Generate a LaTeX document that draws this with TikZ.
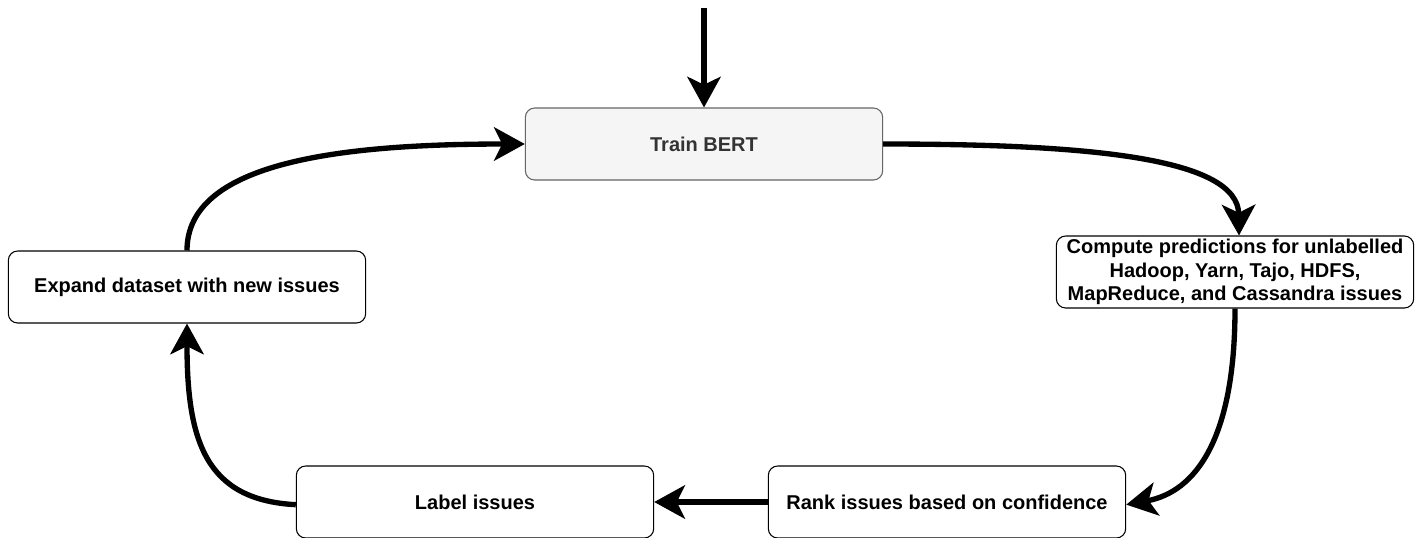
\documentclass[tikz,border=0pt]{standalone}
\usepackage{fontspec}
\setmainfont{Liberation Sans}
\usetikzlibrary{arrows.meta}
\definecolor{boxgray}{HTML}{F5F5F5}
\definecolor{edgegray}{HTML}{666666}
\definecolor{textgray}{HTML}{333333}
\begin{document}
\begin{tikzpicture}[x=0.75pt,y=-0.75pt,
  stepbox/.style={draw=black, line width=0.8pt, fill=white, rounded corners=7pt,
    minimum width=268pt, minimum height=54pt, inner sep=1pt,
    font=\bfseries\fontsize{15}{17.6}\selectfont, align=center},
  flow/.style={line width=4pt, -{Stealth[length=23pt,width=25pt,inset=6pt]}}]
\useasboundingbox (0,0) rectangle (1416,537);
% process steps
\node[stepbox, fill=boxgray, draw=edgegray, text=textgray] (train) at (704,144) {Train BERT};
\node[stepbox] (compute) at (1235,272) {Compute predictions for unlabelled\\Hadoop, Yarn, Tajo, HDFS,\\MapReduce, and Cassandra issues};
\node[stepbox] (expand) at (187,287) {Expand dataset with new issues};
\node[stepbox] (label) at (475,502) {Label issues};
\node[stepbox] (rank) at (947,502) {Rank issues based on confidence};
\coordinate (start) at (704,8);
% connectors
\draw[flow] (start) -- (train.north);
\draw[flow] (train.east) .. controls (1090,144) and (1238,158) .. ([xshift=3pt]compute.north);
\draw[flow] (compute.south) .. controls (1235,440) and (1195,492) .. ([yshift=-2pt]rank.east);
\draw[flow] (rank.west) -- (label.east);
\draw[flow] ([yshift=-2pt]label.west) .. controls (205,500) and (187,440) .. (expand.south);
\draw[flow] (expand.north) .. controls (187,165) and (330,144) .. (train.west);
\end{tikzpicture}
\end{document}
